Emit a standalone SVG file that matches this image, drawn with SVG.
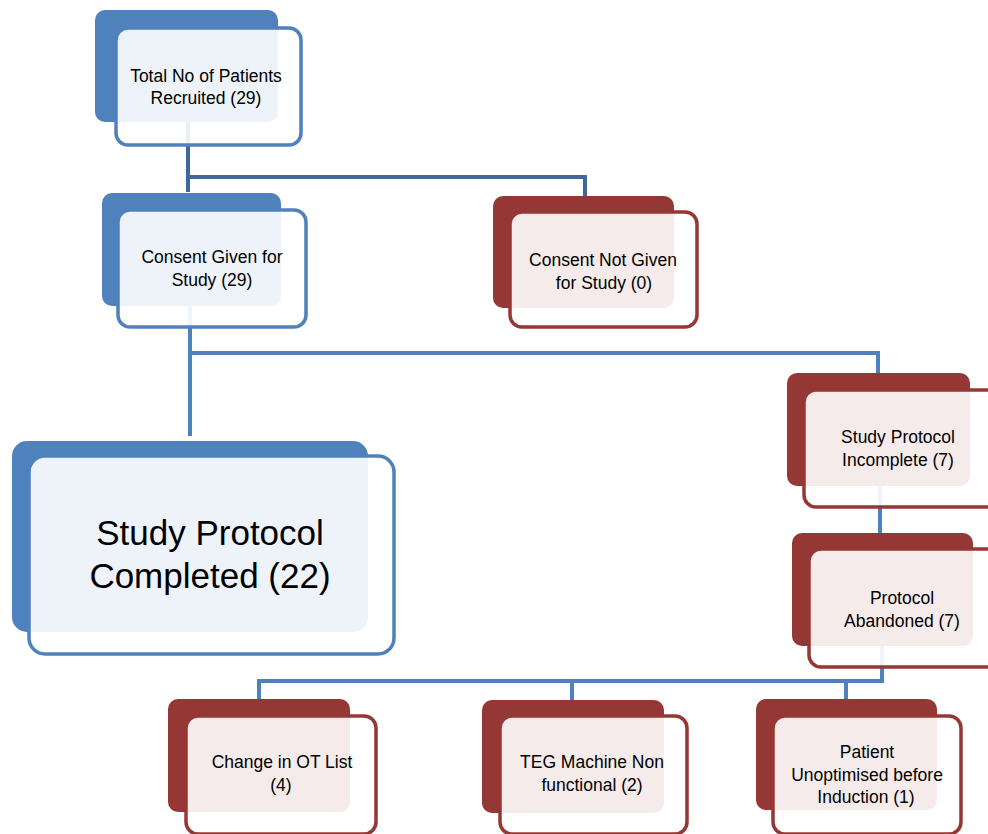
<svg xmlns="http://www.w3.org/2000/svg" width="988" height="834" viewBox="0 0 988 834">
<style>
.bb{fill:#4f81bd}
.bf{fill:#fff;fill-opacity:0.9;stroke:#4f81bd;stroke-width:3.5}
.rb{fill:#953735}
.rf{fill:#fff;fill-opacity:0.9;stroke:#953735;stroke-width:3.5}
.t{font-family:"Liberation Sans",Arial,sans-serif;font-size:17.5px;fill:#000;text-anchor:middle}
.tl{font-family:"Liberation Sans",Arial,sans-serif;font-size:35px;fill:#000;text-anchor:middle}
.c{fill:none;stroke:#4f81bd;stroke-width:4}
.c1{fill:none;stroke:#3d6898;stroke-width:4}
</style>
<rect width="988" height="834" fill="#fff"/>
<g id="connectors">
<path class="c1" d="M188 122 V192"/>
<path class="c1" d="M188 177 H585 V196"/>
<path class="c" d="M190 306 V436"/>
<path class="c" d="M190 353 H878 V373"/>
<path class="c" d="M880 486 V533"/>
<path class="c" d="M882 646 V681 H259 V699"/>
<path class="c" d="M572 681 V700"/>
<path class="c" d="M846 681 V699"/>
</g>
<g id="n1">
<rect class="bb" x="95" y="10" width="183" height="112" rx="10"/>
<rect class="bf" x="116" y="28" width="185" height="117" rx="12"/>
<text class="t" x="206" y="82">Total No of Patients</text>
<text class="t" x="206" y="104">Recruited (29)</text>
</g>
<g id="n2">
<rect class="bb" x="102" y="193" width="179" height="113" rx="10"/>
<rect class="bf" x="118" y="210" width="188" height="117" rx="12"/>
<text class="t" x="212" y="263">Consent Given for</text>
<text class="t" x="212" y="286">Study (29)</text>
</g>
<g id="n3">
<rect class="rb" x="493" y="196" width="181" height="112" rx="10"/>
<rect class="rf" x="510" y="212" width="187" height="115" rx="12"/>
<text class="t" x="603" y="266">Consent Not Given</text>
<text class="t" x="604" y="289">for Study (0)</text>
</g>
<g id="n4">
<rect class="bb" x="12" y="441" width="356" height="191" rx="15"/>
<rect class="bf" x="29" y="456" width="365" height="198" rx="16"/>
<text class="tl" x="210" y="545">Study Protocol</text>
<text class="tl" x="210" y="588">Completed (22)</text>
</g>
<g id="n5">
<rect class="rb" x="787" y="373" width="183" height="113" rx="10"/>
<rect class="rf" x="804" y="390" width="200" height="117" rx="12"/>
<text class="t" x="898" y="443">Study Protocol</text>
<text class="t" x="898" y="466">Incomplete (7)</text>
</g>
<g id="n6">
<rect class="rb" x="792" y="533" width="181" height="113" rx="10"/>
<rect class="rf" x="809" y="549" width="200" height="118" rx="12"/>
<text class="t" x="902" y="604">Protocol</text>
<text class="t" x="902" y="627">Abandoned (7)</text>
</g>
<g id="n7">
<rect class="rb" x="168" y="699" width="182" height="113" rx="10"/>
<rect class="rf" x="186" y="716" width="190" height="118" rx="12"/>
<text class="t" x="282" y="768">Change in OT List</text>
<text class="t" x="281" y="791">(4)</text>
</g>
<g id="n8">
<rect class="rb" x="482" y="700" width="182" height="113" rx="10"/>
<rect class="rf" x="500" y="716" width="187" height="118" rx="12"/>
<text class="t" x="592" y="768">TEG Machine Non</text>
<text class="t" x="592" y="791">functional (2)</text>
</g>
<g id="n9">
<rect class="rb" x="756" y="699" width="181" height="111" rx="10"/>
<rect class="rf" x="773" y="716" width="188" height="118" rx="12"/>
<text class="t" x="867" y="758">Patient</text>
<text class="t" x="867" y="781">Unoptimised before</text>
<text class="t" x="866" y="803">Induction (1)</text>
</g>
</svg>
